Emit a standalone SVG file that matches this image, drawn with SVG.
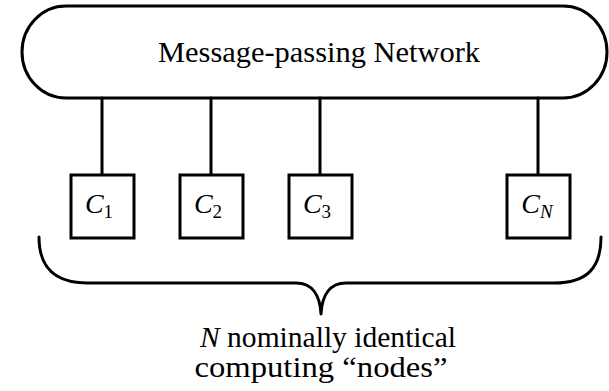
<svg xmlns="http://www.w3.org/2000/svg" width="609" height="391" viewBox="0 0 609 391">
<style>
.ln{fill:none;stroke:#000;stroke-width:3;stroke-linecap:round;stroke-linejoin:round}
.bx{fill:#fff;stroke:#000;stroke-width:3}
.t{font-family:"Liberation Serif","Times New Roman",serif;fill:#000}
.it{font-style:italic}
</style>
<rect width="609" height="391" fill="#fff"/>
<g id="network">
<rect class="bx" x="22" y="6" width="585" height="92" rx="44" ry="46"/>
<text class="t" x="319" y="62" font-size="29" text-anchor="middle" textLength="322" lengthAdjust="spacingAndGlyphs">Message-passing Network</text>
</g>
<g id="connectors">
<line class="ln" x1="102" y1="98" x2="102" y2="175"/>
<line class="ln" x1="211" y1="98" x2="211" y2="175"/>
<line class="ln" x1="320" y1="98" x2="320" y2="175"/>
<line class="ln" x1="538" y1="98" x2="538" y2="175"/>
</g>
<g id="c1">
<rect class="bx" x="71" y="175" width="63" height="63"/>
<text class="t" x="99" y="213" font-size="28" text-anchor="middle"><tspan class="it">C</tspan><tspan font-size="19" dy="5">1</tspan></text>
</g>
<g id="c2">
<rect class="bx" x="180" y="175" width="63" height="63"/>
<text class="t" x="208" y="213" font-size="28" text-anchor="middle"><tspan class="it">C</tspan><tspan font-size="19" dy="5">2</tspan></text>
</g>
<g id="c3">
<rect class="bx" x="289" y="175" width="63" height="63"/>
<text class="t" x="317" y="213" font-size="28" text-anchor="middle"><tspan class="it">C</tspan><tspan font-size="19" dy="5">3</tspan></text>
</g>
<g id="cn">
<rect class="bx" x="507" y="175" width="63" height="63"/>
<text class="t" x="537" y="213" font-size="28" text-anchor="middle"><tspan class="it">C</tspan><tspan class="it" font-size="19" dy="5">N</tspan></text>
</g>
<g id="brace">
<path class="ln" d="M39,237 C39,268 55,283 88,283 L296,283 C312,283 320,295 321,314 C322,295 330,283 346,283 L554,283 C587,283 601,268 601,237"/>
</g>
<g id="label">
<text class="t" x="328" y="347" font-size="29" text-anchor="middle" textLength="256" lengthAdjust="spacingAndGlyphs"><tspan class="it">N</tspan> nominally identical</text>
<text class="t" x="321" y="377" font-size="29" text-anchor="middle" textLength="253" lengthAdjust="spacingAndGlyphs">computing “nodes”</text>
</g>
</svg>
